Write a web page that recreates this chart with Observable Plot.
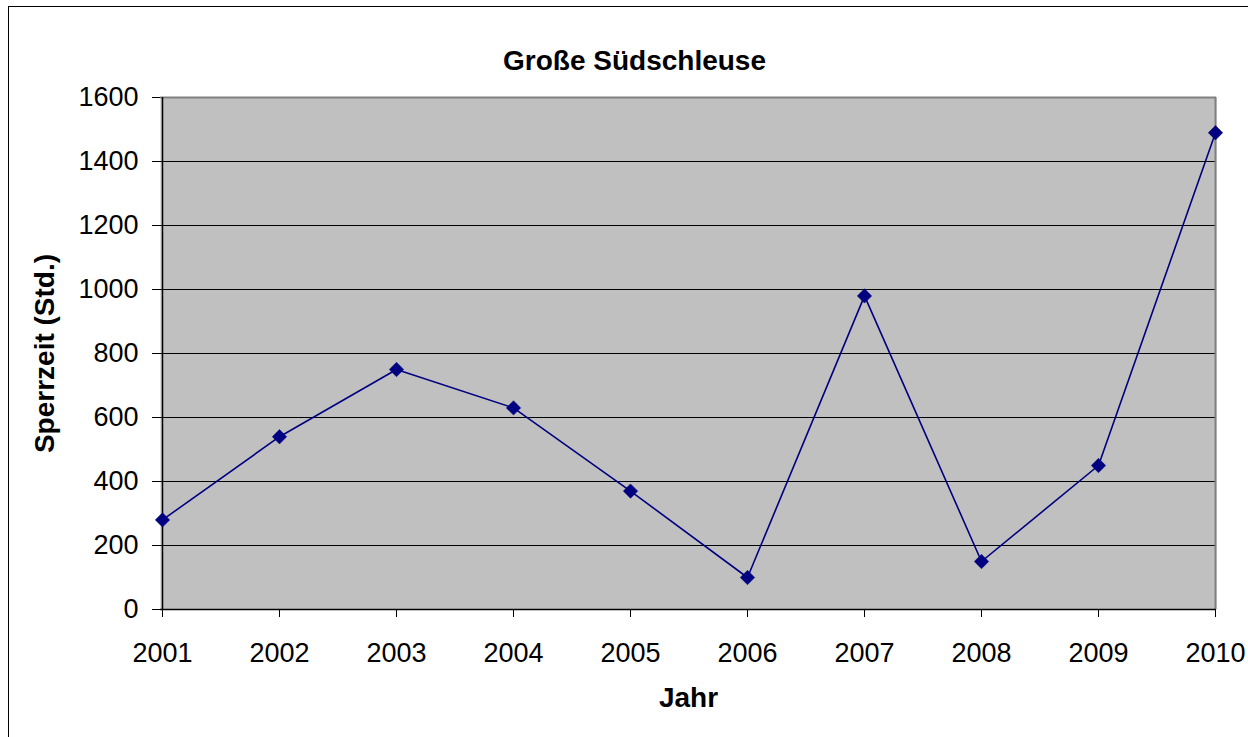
<!DOCTYPE html>
<html>
<head>
<meta charset="utf-8">
<script src="https://cdn.jsdelivr.net/npm/d3@7"></script>
<script src="https://cdn.jsdelivr.net/npm/@observablehq/plot@0.6"></script>
<style>
  html, body { margin: 0; padding: 0; background: #fff; }
  #wrap { position: relative; width: 1248px; height: 737px; overflow: hidden; }
  #border { position: absolute; left: 8px; top: 6px; width: 1260px; height: 760px; border: 1px solid #000; box-sizing: border-box; pointer-events: none; }
  svg { font-family: "Liberation Sans", Arial, sans-serif; }
</style>
</head>
<body>
<div id="wrap"><div id="border"></div></div>
<script>
const years = ["2001","2002","2003","2004","2005","2006","2007","2008","2009","2010"];
const hours = [280, 540, 750, 630, 370, 100, 980, 150, 450, 1490];
const yTicks = [0, 200, 400, 600, 800, 1000, 1200, 1400, 1600];
const gridTicks = [200, 400, 600, 800, 1000, 1200, 1400];
const titleText = "Große Südschleuse";
const xLabel = "Jahr";
const yLabel = "Sperrzeit (Std.)";

const data = years.map((y, i) => ({year: y, value: hours[i]}));

const chart = Plot.plot({
  width: 1248,
  height: 737,
  marginTop: 97,
  marginLeft: 160,
  marginRight: 32,
  marginBottom: 128,
  style: {fontFamily: "'Liberation Sans', Arial, sans-serif", background: "transparent"},
  x: {type: "point", domain: years, padding: 0},
  y: {domain: [0, 1600]},
  marks: [
    Plot.frame({fill: "#C0C0C0", stroke: null}),
    Plot.ruleY(gridTicks, {stroke: "#000", strokeWidth: 1}),
    Plot.ruleY([1600], {stroke: "#808080", strokeWidth: 2}),
    Plot.ruleX([years[years.length - 1]], {stroke: "#808080", strokeWidth: 2}),
    Plot.axisY(yTicks, {tickSize: 8, tickPadding: 14, fontSize: 27, label: null, tickFormat: d => String(d), stroke: "#000", color: "#000"}),
    Plot.axisX(years, {tickSize: 8, tickPadding: 25, fontSize: 27, label: null, stroke: "#000", color: "#000"}),
    Plot.ruleX([years[0]], {stroke: "#000", strokeWidth: 1.5}),
    Plot.ruleY([0], {stroke: "#000", strokeWidth: 1.5}),
    Plot.line(data, {x: "year", y: "value", stroke: "#000080", strokeWidth: 1.6}),
    Plot.dot(data, {x: "year", y: "value", symbol: "diamond2", r: 6.5, fill: "#000080", stroke: "#000080", strokeWidth: 0.5}),
    Plot.text([titleText], {frameAnchor: "top", dy: -47, dx: -54, fontSize: 28, fontWeight: "bold", fill: "#000"}),
    Plot.text([xLabel], {frameAnchor: "bottom", dy: 97, fontSize: 28, fontWeight: "bold", fill: "#000"}),
    Plot.text([yLabel], {frameAnchor: "left", textAnchor: "middle", rotate: -90, dx: -115, fontSize: 28, fontWeight: "bold", fill: "#000"})
  ]
});
document.getElementById("wrap").appendChild(chart);
chart.style.position = "absolute";
chart.style.left = "0";
chart.style.top = "0";
</script>
</body>
</html>
